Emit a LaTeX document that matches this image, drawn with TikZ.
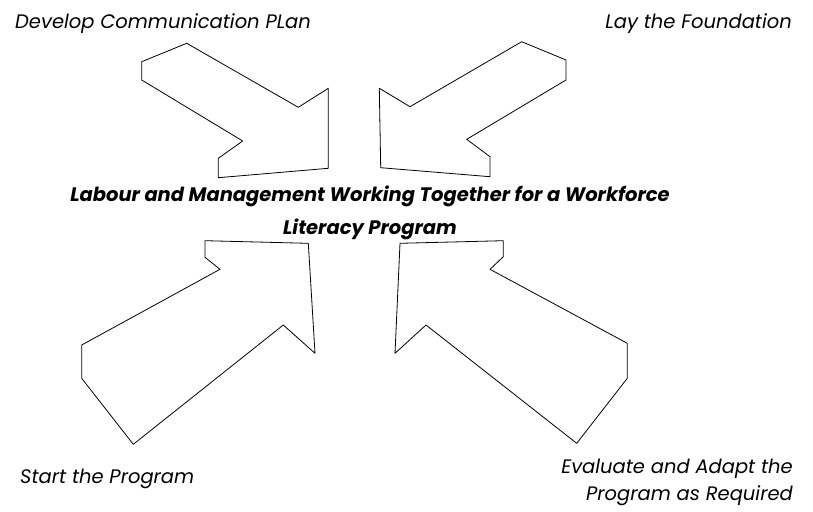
\documentclass[tikz,border=0pt]{standalone}
\usepackage{fontspec}
\setmainfont{Poppins}
\begin{document}
\begin{tikzpicture}[x = 1pt, y = -1pt,
    arrowshape/.style = {draw = black, line width = 0.8pt, line join = round},
    steplabel/.style = {font = \itshape\fontsize{19.5}{27}\selectfont, inner sep = 0pt},
    goallabel/.style = {font = \bfseries\itshape\fontsize{19.5}{32.3}\selectfont, inner sep = 0pt, align = center}]

  \useasboundingbox (0, 0) rectangle (813, 511);

  % Arrows
  \draw[arrowshape] (186.7, 43.3) -- (141.7, 61.7) -- (141.7, 80) -- (242.7, 141) -- (218.3, 158.3) -- (218.3, 177.7) -- (328.3, 168.3) -- (328.3, 88.3) -- (298.3, 107.3) -- cycle;
  \draw[arrowshape] (521.7, 41.7) -- (566, 60) -- (566, 80) -- (466.7, 139.3) -- (490, 156.7) -- (490, 176.7) -- (380.7, 167.7) -- (379.3, 88.3) -- (410, 106.7) -- cycle;
  \draw[arrowshape] (205, 240.7) -- (308.3, 243.3) -- (315, 353.3) -- (283.3, 325) -- (133.3, 444.3) -- (81.7, 378.3) -- (81.7, 345) -- (220, 269.3) -- (205, 257.3) -- cycle;
  \draw[arrowshape] (503.3, 240.7) -- (400, 243.3) -- (395, 353.3) -- (426, 325) -- (576.7, 443.3) -- (627.3, 378.3) -- (627.3, 343.3) -- (490, 269.3) -- (503.3, 256.7) -- cycle;

  % Labels
  \node[steplabel, anchor = base west] (plan) at (15, 29) {Develop Communication PLan};
  \node[steplabel, anchor = base east] (foundation) at (792, 29) {Lay the Foundation};
  \node[steplabel, anchor = base west] (start) at (20, 483) {Start the Program};
  \node[steplabel, anchor = base east, align = right] (evaluate) at (793, 500) {Evaluate and Adapt the\\Program as Required};
  \node[goallabel, anchor = base] (goal) at (370, 234) {Labour and Management Working Together for a Workforce\\Literacy Program};

\end{tikzpicture}
\end{document}
